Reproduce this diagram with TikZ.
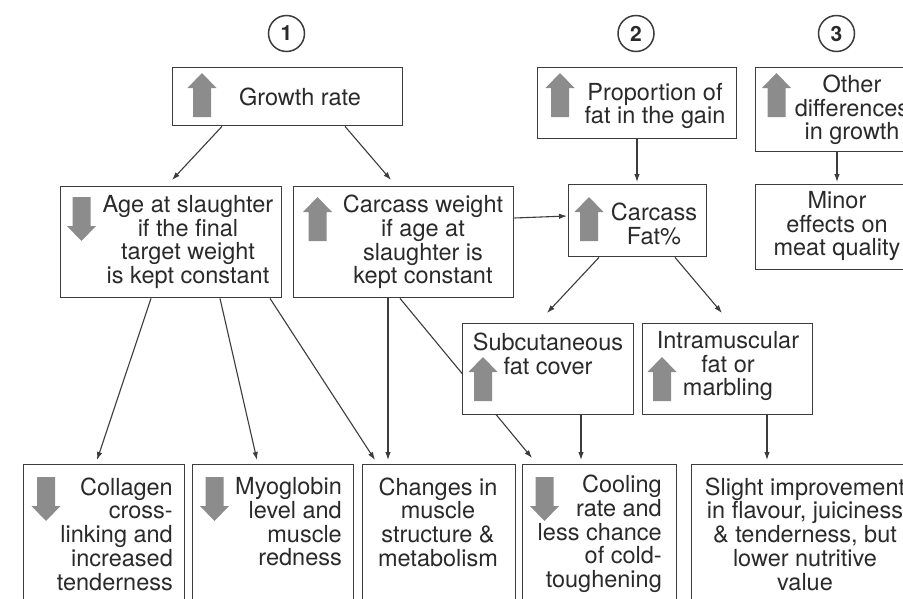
\documentclass[tikz,border=0pt]{standalone}
\usepackage{fontspec}
\setmainfont{TeX Gyre Heros}
\usetikzlibrary{arrows.meta,calc,backgrounds}
\definecolor{linec}{HTML}{3C3C3C}
\definecolor{textc}{HTML}{2A2A2A}
\definecolor{garrowc}{HTML}{8C8C8C}
\newcommand\grayup[1]{\fill[garrowc,shift={(#1)}] (-9,44) -- (-9,15) -- (-14.5,15) -- (0,0) -- (14.5,15) -- (9,15) -- (9,44) -- cycle;}
\newcommand\graydown[1]{\fill[garrowc,shift={(#1)}] (-9,0) -- (9,0) -- (9,29) -- (14.5,29) -- (0,44) -- (-14.5,29) -- (-9,29) -- cycle;}
\tikzset{
  box/.style={draw=linec,line width=1.4pt,fill=white,rectangle,inner sep=0pt,anchor=north west},
  txt/.style={inner sep=0pt,text=textc,align=center,font=\fontsize{23.5}{23.7}\selectfont},
  rtxt/.style={txt,align=right,anchor=east},
  conn/.style={draw=linec,line width=1.1pt,-{Latex[length=8pt,width=5.5pt]}},
  numc/.style={circle,draw=linec,line width=1.5pt,minimum size=36pt,inner sep=0pt,text=textc,font=\fontsize{21}{21}\selectfont\bfseries}
}
\begin{document}
\begin{tikzpicture}[x=1pt,y=-1pt]
\useasboundingbox (0,0) rectangle (903,598);
\clip (0,0) rectangle (903,598);
% numbers
\node[numc] (n1) at (286.5,33.5) {1};
\node[numc] (n2) at (636,33.5) {2};
\node[numc] (n3) at (836.5,33.5) {3};
% boxes
\node[box,minimum width=230pt,minimum height=58pt] (gr) at (172,67) {};
\node[box,minimum width=221pt,minimum height=111pt] (age) at (60,186) {};
\node[box,minimum width=220pt,minimum height=111pt] (cw) at (293,186) {};
\node[box,minimum width=199pt,minimum height=71pt] (prop) at (537,67) {};
\node[box,minimum width=164pt,minimum height=84pt] (oth) at (755,67) {};
\node[box,minimum width=138pt,minimum height=72pt] (cf) at (568,184) {};
\node[box,minimum width=164pt,minimum height=85pt] (minor) at (755,184) {};
\node[box,minimum width=171pt,minimum height=91pt] (sub) at (462,323) {};
\node[box,minimum width=170pt,minimum height=91pt] (intra) at (642,323) {};
\node[box,minimum width=161pt,minimum height=160pt] (coll) at (23,464) {};
\node[box,minimum width=161pt,minimum height=160pt] (myo) at (192,464) {};
\node[box,minimum width=153pt,minimum height=160pt] (chg) at (362,464) {};
\node[box,minimum width=154pt,minimum height=160pt] (cool) at (522,464) {};
\node[box,minimum width=228pt,minimum height=160pt] (sli) at (691,464) {};
% texts
\node[txt] (gr-t) at (300,97) {Growth rate};
\node[txt] (age-t) at (188,242) {Age at slaughter\\if the final\\target weight\\is kept constant};
\node[txt] (cw-t) at (423,242) {Carcass weight\\if age at\\slaughter is\\kept constant};
\node[txt] (prop-t) at (655,106) {Proportion of\\fat in the gain};
\node[txt] (oth-t) at (852,110) {Other\\differences\\in growth};
\node[txt] (cf-t) at (654,224) {Carcass\\Fat\%};
\node[txt] (minor-t) at (837,226) {Minor\\effects on\\meat quality};
\node[txt] (sub-t) at (548,354) {Subcutaneous\\fat cover};
\node[txt] (intra-t) at (728,366) {Intramuscular\\fat or\\marbling};
\node[rtxt] (coll-t) at (173,534) {Collagen\\cross-\\linking and\\increased\\tenderness};
\node[rtxt] (myo-t) at (342,522) {Myoglobin\\level and\\muscle\\redness};
\node[txt] (chg-t) at (438,522) {Changes in\\muscle\\structure \&\\metabolism};
\node[rtxt] (cool-t) at (662,534) {Cooling\\rate and\\less chance\\of cold-\\toughening};
\node[txt] (sli-t) at (805,534) {Slight improvement\\in flavour, juiciness\\\& tenderness, but\\lower nutritive\\value};
% gray arrows
\grayup{202,73}
\graydown{81.5,197}
\grayup{317.5,197}
\grayup{560,73}
\grayup{776.5,73}
\grayup{589,197}
\grayup{483,357}
\grayup{662,357}
\graydown{46,477}
\graydown{214.5,477}
\graydown{544.5,477}
% connectors
\begin{pgfonlayer}{background}
\fill[white] (0,0) rectangle (903,598);
\draw[conn] ($(gr.south west)+(50,0)$) -- ($(age.north west)+(112,-6)$);
\draw[conn] ($(gr.south west)+(173,0)$) -- ($(cw.north west)+(98,-6)$);
\draw[conn] ($(prop.south west)+(100,0)$) -- ($(cf.north west)+(69,-2)$);
\draw[conn] ($(cw.north east)+(0,32)$) -- ($(cf.north west)+(-1,32)$);
\draw[conn] ($(oth.south west)+(82,0)$) -- ($(minor.north west)+(82,-2)$);
\draw[conn] ($(cf.south west)+(31,0)$) -- ($(sub.north west)+(85,-10)$);
\draw[conn] ($(cf.south west)+(107,0)$) -- ($(intra.north west)+(80,-10)$);
\draw[conn] ($(age.south west)+(91,0)$) -- ($(coll.north west)+(74,-4)$);
\draw[conn] ($(age.south west)+(160,0)$) -- ($(myo.north west)+(65,-4)$);
\draw[conn] ($(age.south west)+(210,0)$) -- ($(chg.north west)+(13,-4)$);
\draw[conn] ($(cw.south west)+(95,0)$) -- ($(chg.north west)+(26,-4)$);
\draw[conn] ($(cw.south west)+(107,0)$) -- ($(cool.north west)+(10,-6)$);
\draw[conn] ($(sub.south west)+(119,0)$) -- ($(cool.north west)+(59,-4)$);
\draw[conn] ($(intra.south west)+(125,0)$) -- ($(sli.north west)+(76,-4)$);
\end{pgfonlayer}
\end{tikzpicture}
\end{document}
